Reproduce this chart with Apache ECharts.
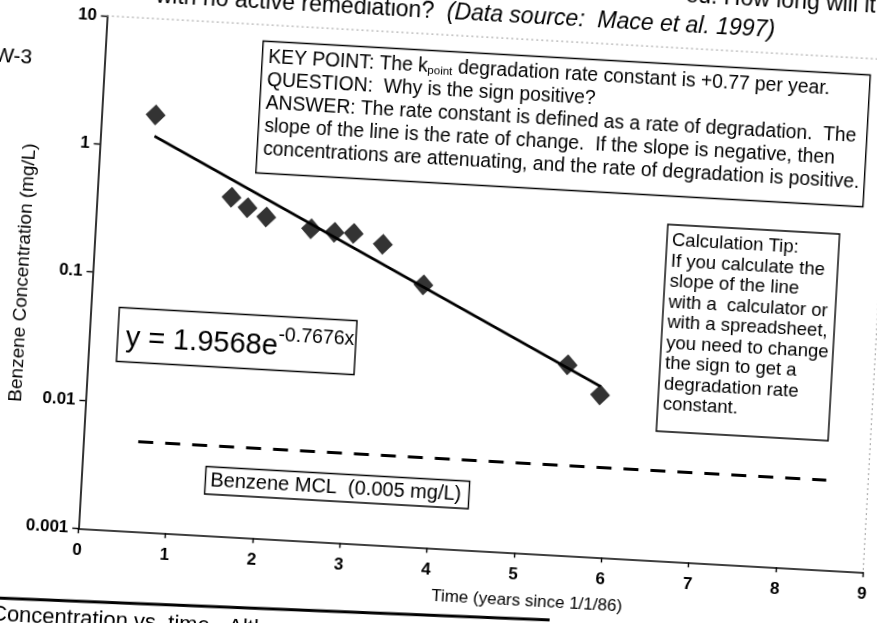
<!DOCTYPE html>
<html>
<head>
<meta charset="utf-8">
<script src="https://cdn.jsdelivr.net/npm/echarts@6/dist/echarts.min.js"></script>
<style>
  html, body { margin: 0; padding: 0; width: 877px; height: 623px; overflow: hidden; background: #fff; }
  /* the printed page sits slightly tilted; the whole chart is rotated about the axis origin */
  #page { position: absolute; left: -50px; top: -50px; width: 977px; height: 723px;
          transform: rotate(3.2deg); transform-origin: 128.3px 578.3px; }
</style>
</head>
<body>
<div id="page"></div>
<script>
// Benzene in well MW-3 (Mace et al. 1997)
const timeYears   = [0.62, 1.54, 1.73, 1.95, 2.47, 2.74, 2.96, 3.30, 3.79, 5.49, 5.88];
const benzeneMgL  = [1.78, 0.44, 0.37, 0.32, 0.27, 0.26, 0.26, 0.22, 0.111, 0.0305, 0.0184];

// exponential fit  y = a * e^(b x)
const fitCoef = 1.9568;
const fitRate = -0.7676;

// maximum contaminant level
const mclValue = 0.005;
const mclSpan  = [0.63, 8.52];

const xTickLabels = ['0', '1', '2', '3', '4', '5', '6', '7', '8', '9'];
const yTickLabels = ['0.001', '0.01', '0.1', '1', '10'];

// layout (un-tilted frame, offset by PAD inside the page div)
const PAD = 50;
const plot = { left: 78.3, top: 15.1, width: 786, height: 513.2 };
const FONT = '"Liberation Sans", Arial, Helvetica, sans-serif';

const fitX = [timeYears[0], timeYears[timeYears.length - 1]];
const fitLine = fitX.map(x => [x, fitCoef * Math.exp(fitRate * x)]);

function box(x, y, w, h, textEl) {
  return {
    type: 'group', x: PAD + x, y: PAD + y, silent: true, z: 20,
    children: [
      { type: 'rect', shape: { x: 0, y: 0, width: w, height: h },
        style: { fill: '#fff', stroke: '#000', lineWidth: 1.4 } },
      textEl
    ]
  };
}

function txt(x, y, text, extra) {
  return Object.assign({
    type: 'text', x: x, y: y, silent: true,
    style: Object.assign({ text: text, fill: '#000', fontFamily: FONT, fontSize: 19,
      align: 'left', verticalAlign: 'middle', textAlign: 'left', textVerticalAlign: 'middle' },
      extra && extra.style)
  }, extra && extra.el);
}

const keyText = [
  '{t|KEY POINT: The k}{sub|point}{t| degradation rate constant is +0.77 per year.}',
  '{t|QUESTION:  Why is the sign positive?}',
  '{t|ANSWER: The rate constant is defined as a rate of degradation.  The}',
  '{t|slope of the line is the rate of change.  If the slope is negative, then}',
  '{t|concentrations are attenuating, and the rate of degradation is positive.}'
].join('\n');

const tipText = [
  'Calculation Tip:', 'If you calculate the', 'slope of the line', 'with a  calculator or',
  'with a spreadsheet,', 'you need to change', 'the sign to get a', 'degradation rate', 'constant.'
].join('\n');

const chart = echarts.init(document.getElementById('page'), null, { renderer: 'canvas' });

chart.setOption({
  animation: false,
  backgroundColor: 'transparent',
  textStyle: { fontFamily: FONT, color: '#000' },
  grid: {
    left: PAD + plot.left, top: PAD + plot.top, width: plot.width, height: plot.height,
    outerBoundsMode: 'none', containLabel: false, show: false
  },
  xAxis: {
    type: 'value', min: 0, max: 9, interval: 1,
    axisLine: { show: true, onZero: false, lineStyle: { color: '#000', width: 1.6 } },
    axisTick: { show: true, inside: false, length: 5, lineStyle: { color: '#000', width: 1.4 } },
    axisLabel: { color: '#000', fontSize: 17, fontWeight: 'bold', margin: 14,
                 formatter: v => xTickLabels[Math.round(v)] },
    splitLine: { show: false }
  },
  yAxis: {
    type: 'log', logBase: 10, min: 0.001, max: 10,
    axisLine: { show: true, onZero: false, lineStyle: { color: '#000', width: 1.6 } },
    axisTick: { show: true, inside: false, length: 6, lineStyle: { color: '#000', width: 1.4 } },
    axisLabel: { color: '#000', fontSize: 17, fontWeight: 'bold', margin: 10,
                 formatter: v => yTickLabels[Math.round(Math.log10(v)) + 3] },
    splitLine: { show: false },
    minorTick: { show: false }
  },
  series: [
    {
      name: 'Benzene', type: 'scatter', z: 5,
      data: timeYears.map((t, i) => [t, benzeneMgL[i]]),
      symbol: 'diamond', symbolSize: [20, 21],
      itemStyle: { color: '#000' }
    },
    {
      name: 'Exponential fit', type: 'line', z: 4,
      data: fitLine, showSymbol: false, symbol: 'none',
      lineStyle: { color: '#000', width: 2.6 }
    },
    {
      name: 'Benzene MCL', type: 'line', z: 3,
      data: mclSpan.map(x => [x, mclValue]), showSymbol: false, symbol: 'none',
      lineStyle: { color: '#000', width: 3, type: [15, 12] }
    }
  ],
  graphic: [
    // faint plot-area border on the top and right
    { type: 'polyline', silent: true, z: 1,
      shape: { points: [
        [PAD + plot.left, PAD + plot.top],
        [PAD + plot.left + plot.width, PAD + plot.top],
        [PAD + plot.left + plot.width, PAD + plot.top + plot.height]
      ] },
      style: { stroke: '#9a9a9a', lineWidth: 1, lineDash: [2, 3], fill: null } },

    box(235.7, 31.5, 608, 132, txt(6, 3, '', { style: {
      text: keyText, verticalAlign: 'top', textVerticalAlign: 'top',
      rich: {
        t: { fontSize: 19.3, lineHeight: 23, fontFamily: FONT, fill: '#000', verticalAlign: 'bottom' },
        sub: { fontSize: 11.5, lineHeight: 15, fontFamily: FONT, fill: '#000', verticalAlign: 'bottom' }
      } } })),

    box(650, 192, 172, 207, txt(5, 6, tipText, { style: {
      fontSize: 18.5, lineHeight: 20.5, verticalAlign: 'top', textVerticalAlign: 'top' } })),

    box(107, 305.5, 238, 54, txt(8, 9, '{m|y = ' + fitCoef.toFixed(4) + 'e}{s|' + fitRate.toFixed(4) + 'x}', { style: {
      verticalAlign: 'top', textVerticalAlign: 'top',
      rich: {
        m: { fontSize: 29, lineHeight: 36, fontFamily: FONT, fill: '#000', verticalAlign: 'bottom' },
        s: { fontSize: 19.5, lineHeight: 26, fontFamily: FONT, fill: '#000', verticalAlign: 'top' }
      } } })),

    box(202.5, 459.5, 264, 27.5, txt(5, 14, 'Benzene MCL  (' + mclValue + ' mg/L)', { style: { fontSize: 20 } })),

    // axis titles
    txt(PAD + 9, PAD + 276, 'Benzene Concentration (mg/L)', {
      style: { fontSize: 19, align: 'center', textAlign: 'center' },
      el: { rotation: Math.PI / 2 } }),
    txt(PAD + 530, PAD + 576, 'Time (years since 1/1/86)', {
      style: { fontSize: 17, align: 'center', textAlign: 'center' } }),

    // surrounding page text
    txt(PAD + 655, PAD - 37, 'ed. How long will it ta', { style: { fontSize: 23 } }),
    txt(PAD + 126, PAD - 7, '{n|with no active remediation?  }{i|(Data source:  Mace et al. 1997)}', { style: {
      rich: {
        n: { fontSize: 23, fontFamily: FONT, fill: '#000' },
        i: { fontSize: 23, fontFamily: FONT, fill: '#000', fontStyle: 'italic' }
      } } }),
    txt(PAD + 6, PAD + 61, 'W-3', { style: { fontSize: 21, align: 'right', textAlign: 'right' } }),
    { type: 'line', silent: true,
      shape: { x1: PAD - 60, y1: PAD + 603.3, x2: PAD + 554, y2: PAD + 593.4 },
      style: { stroke: '#000', lineWidth: 3 } },
    txt(PAD - 4, PAD + 619, 'Concentration vs. time.  Alth', { style: { fontSize: 22 } })
  ]
});
</script>
</body>
</html>
